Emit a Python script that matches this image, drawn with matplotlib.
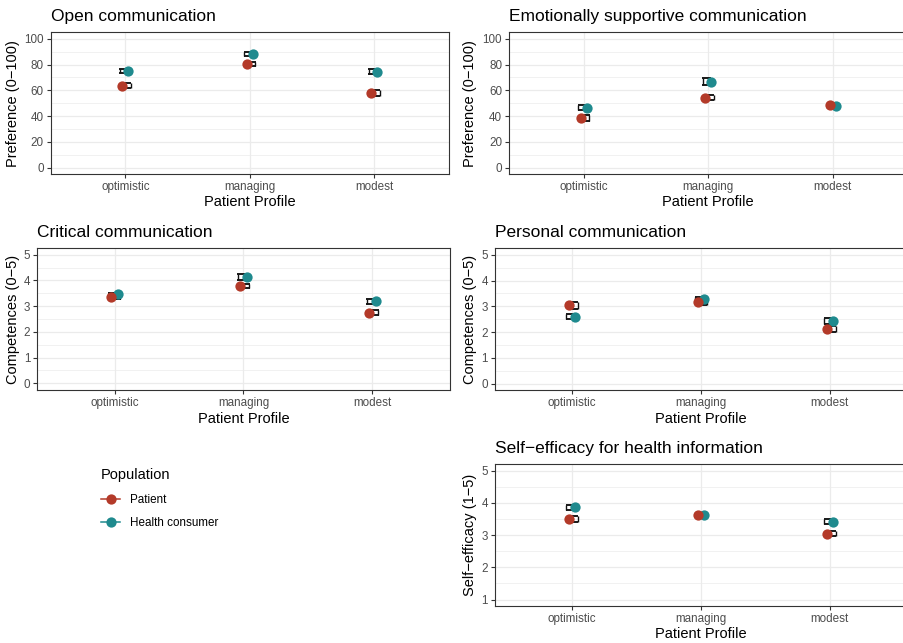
import matplotlib
matplotlib.use('Agg')
import matplotlib.pyplot as plt
from matplotlib.lines import Line2D
import numpy as np

plt.rcParams['font.family'] = ['Liberation Sans', 'DejaVu Sans']

profiles = ['optimistic', 'managing', 'modest']
populations = ['Patient', 'Health consumer']
colors = ['#B33A29', '#1F8A8E']

# means and standard errors per profile
open_patient = [63.7, 80.2, 58.0]
open_patient_se = [2.0, 1.6, 2.1]
open_consumer = [75.0, 88.4, 74.5]
open_consumer_se = [1.6, 1.6, 1.7]

emo_patient = [38.7, 54.1, 48.7]
emo_patient_se = [2.2, 2.0, 1.5]
emo_consumer = [46.6, 66.8, 48.0]
emo_consumer_se = [2.0, 2.6, 1.5]

crit_patient = [3.36, 3.78, 2.75]
crit_patient_se = [0.07, 0.09, 0.09]
crit_consumer = [3.46, 4.13, 3.19]
crit_consumer_se = [0.07, 0.11, 0.10]

pers_patient = [3.04, 3.15, 2.12]
pers_patient_se = [0.14, 0.10, 0.12]
pers_consumer = [2.59, 3.27, 2.44]
pers_consumer_se = [0.10, 0.10, 0.12]

self_patient = [3.50, 3.63, 3.04]
self_patient_se = [0.08, 0.06, 0.08]
self_consumer = [3.86, 3.62, 3.42]
self_consumer_se = [0.08, 0.06, 0.08]

W, H = 904, 643
fig = plt.figure(figsize=(W / 100, H / 100), dpi=100)


def panel(box, title, ylabel, yticks, yminor, ylim, series, ylab_x, xlab_y):
    left, right, top, bottom = box
    ax = fig.add_axes([left / W, 1 - bottom / H, (right - left) / W, (bottom - top) / H])
    x = np.arange(len(profiles))
    # teal first so the red points sit on top
    for k in [1, 0]:
        means, se = series[k]
        means = np.array(means)
        se = np.array(se)
        side = -1 if k == 0 else 1
        xp = x + side * 0.025
        # error bars sit on the opposite side of the point, partly under it
        stem = x - side * 0.045
        c0 = np.minimum(x - side * 0.048, x + side * 0.02)
        c1 = np.maximum(x - side * 0.048, x + side * 0.02)
        ax.vlines(stem, means - se, means + se, color='#111111', lw=1.0, zorder=2)
        ax.hlines(means - se, c0, c1, color='#111111', lw=1.35, zorder=2)
        ax.hlines(means + se, c0, c1, color='#111111', lw=1.35, zorder=2)
        ax.plot(xp, means, 'o', color=colors[k], markersize=7.4, markeredgewidth=0,
                zorder=4 if k == 0 else 3)

    ax.set_xlim(-0.6, 2.6)
    ax.set_ylim(*ylim)
    ax.set_xticks(x)
    ax.set_xticklabels(profiles)
    ax.set_yticks(yticks)
    ax.set_yticks(yminor, minor=True)
    ax.grid(True, which='major', color='#EBEBEB', lw=0.9, zorder=0)
    ax.grid(True, which='minor', axis='y', color='#EBEBEB', lw=0.5, zorder=0)
    ax.set_axisbelow(True)
    for s in ax.spines.values():
        s.set_color('#333333')
        s.set_linewidth(0.8)
    ax.tick_params(which='major', length=3.2, width=0.8, color='#333333',
                   labelcolor='#4D4D4D', labelsize=8.4, pad=1.8)
    ax.tick_params(which='minor', length=0)
    ax.set_title(title, loc='left', fontsize=12.5, color='black', pad=8.3)
    ax.set_ylabel(ylabel, fontsize=10.5)
    ax.yaxis.set_label_coords(ylab_x / W, 1 - (top + bottom) / 2 / H, transform=fig.transFigure)
    ax.set_xlabel('Patient Profile', fontsize=10.5, va='top')
    ax.xaxis.set_label_coords(((left + right) / 2) / W, 1 - xlab_y / H, transform=fig.transFigure)
    return ax


pct_ticks = [0, 20, 40, 60, 80, 100]
pct_minor = [10, 30, 50, 70, 90]
comp_ticks = [0, 1, 2, 3, 4, 5]
comp_minor = [0.5, 1.5, 2.5, 3.5, 4.5]

panel((50.7, 449, 32.3, 174), 'Open communication', 'Preference (0\u2212100)',
      pct_ticks, pct_minor, (-5, 105),
      [(open_patient, open_patient_se), (open_consumer, open_consumer_se)], 20.3, 195.5)
panel((509, 907.5, 32.3, 174), 'Emotionally supportive communication', 'Preference (0\u2212100)',
      pct_ticks, pct_minor, (-5, 105),
      [(emo_patient, emo_patient_se), (emo_consumer, emo_consumer_se)], 477, 195.5)
panel((37.3, 449.7, 248.3, 389.7), 'Critical communication', 'Competences (0\u22125)',
      comp_ticks, comp_minor, (-0.25, 5.25),
      [(crit_patient, crit_patient_se), (crit_consumer, crit_consumer_se)], 19.8, 412)
panel((495, 907, 248.3, 390), 'Personal communication', 'Competences (0\u22125)',
      comp_ticks, comp_minor, (-0.25, 5.25),
      [(pers_patient, pers_patient_se), (pers_consumer, pers_consumer_se)], 477, 412)
panel((495, 907, 464.3, 606), 'Self\u2212efficacy for health information', 'Self\u2212efficacy (1\u22125)',
      [1, 2, 3, 4, 5], [1.5, 2.5, 3.5, 4.5], (0.8, 5.2),
      [(self_patient, self_patient_se), (self_consumer, self_consumer_se)], 477, 627.5)

handles = [Line2D([], [], color=c, marker='o', markersize=7.4, markeredgewidth=0, lw=1.1)
           for c in colors]
leg = fig.legend(handles, populations, title='Population', loc='upper left',
                 bbox_to_anchor=(101 / W, 1 - 468 / H), frameon=False, fontsize=8.4,
                 title_fontsize=10.5, alignment='left', borderpad=0, borderaxespad=0,
                 handlelength=1.65, handletextpad=0.85, labelspacing=1.0)

fig.savefig('out.png', dpi=100)
